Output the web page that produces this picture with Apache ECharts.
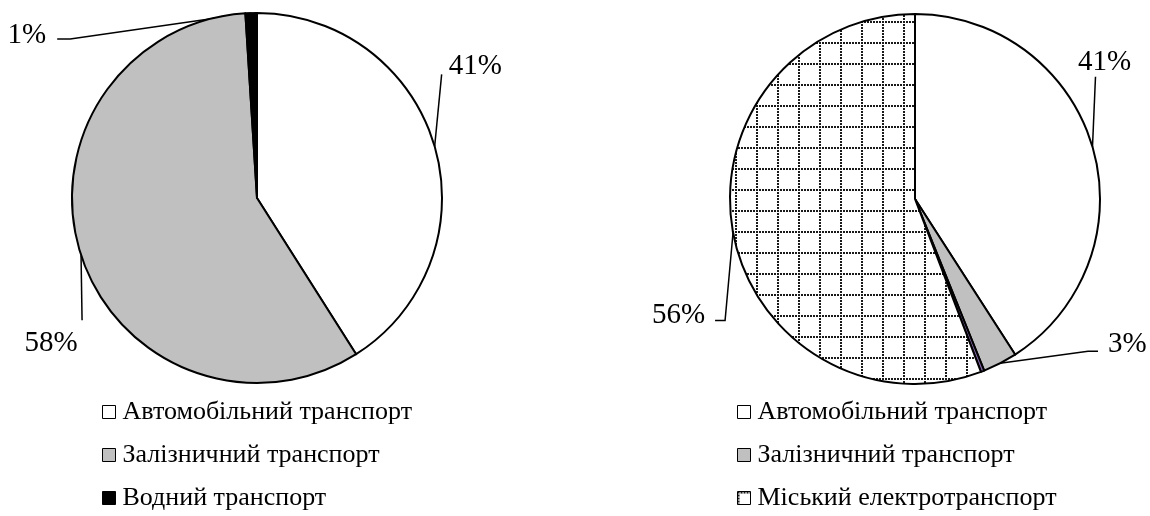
<!DOCTYPE html>
<html>
<head>
<meta charset="utf-8">
<script src="https://cdn.jsdelivr.net/npm/echarts@6/dist/echarts.min.js"></script>
<style>
html,body{margin:0;padding:0;background:#fff;}
#chart{width:1150px;height:516px;}
</style>
</head>
<body>
<div id="chart"></div>
<script>
// ---- data ----
const categoriesLeft = ['Автомобільний транспорт', 'Залізничний транспорт', 'Водний транспорт'];
const valuesLeft = [41, 58, 1];
const categoriesRight = ['Автомобільний транспорт', 'Залізничний транспорт', 'Водний транспорт', 'Міський електротранспорт'];
const valuesRight = [40.9, 3.0, 0.3, 55.8];
const legendLeft = ['Автомобільний транспорт', 'Залізничний транспорт', 'Водний транспорт'];
const legendRight = ['Автомобільний транспорт', 'Залізничний транспорт', 'Міський електротранспорт'];

// ---- styles ----
function makePattern() {
  const c = document.createElement('canvas');
  c.width = 21; c.height = 21;
  const g = c.getContext('2d');
  g.fillStyle = '#ffffff';
  g.fillRect(0, 0, 21, 21);
  g.fillStyle = '#1a1a1a';
  for (let i = 0; i < 21; i += 3) {
    g.fillRect(i, 0, 2, 2);
    g.fillRect(0, i, 2, 2);
  }
  return c;
}
const pattern = { image: makePattern(), repeat: 'repeat' };
const colorsLeft = ['#ffffff', '#c0c0c0', '#000000'];
const colorsRight = ['#ffffff', '#c0c0c0', '#8064a2', pattern];
const FONT = 'Liberation Serif';

// label placement offsets relative to the slice edge anchor (layout only)
const layoutLeft = {
  0: { line: [[7, -72]], lx: 14, ly: -80, align: 'left' },
  1: { line: [[1, 65]], lx: -30, ly: 88, align: 'center' },
  2: { line: [[-181, 26], [-194, 26]], lx: -205, ly: 22, align: 'right' }
};
const layoutRight = {
  0: { line: [[3, -70]], lx: 12, ly: -84, align: 'center' },
  1: { line: [[88, -12], [98, -12]], lx: 108, ly: -19, align: 'left' },
  3: { line: [[-8, 88], [-18, 88]], lx: -28, ly: 83, align: 'right' }
};

function makeLayout(cfg) {
  return function (params) {
    const c = cfg[params.dataIndex];
    const pts = params.labelLinePoints;
    if (!c || !pts) return {};
    const p0 = pts[0];
    const linePts = [[p0[0], p0[1]]];
    c.line.forEach(function (d) { linePts.push([p0[0] + d[0], p0[1] + d[1]]); });
    return {
      x: p0[0] + c.lx,
      y: p0[1] + c.ly,
      align: c.align,
      verticalAlign: 'middle',
      labelLinePoints: linePts
    };
  };
}

function buildData(cats, vals, cols, hideIdx) {
  return cats.map(function (name, i) {
    const item = { name: name, value: vals[i], itemStyle: { color: cols[i] } };
    if (hideIdx.indexOf(i) >= 0) {
      item.label = { show: false };
      item.labelLine = { show: false };
    }
    return item;
  });
}

const commonSeries = {
  type: 'pie',
  startAngle: 90,
  clockwise: true,
  percentPrecision: 0,
  avoidLabelOverlap: false,
  silent: true,
  itemStyle: { borderColor: '#000', borderWidth: 2 },
  label: {
    show: true,
    position: 'outside',
    formatter: '{d}%',
    fontFamily: FONT,
    fontSize: 29,
    color: '#000'
  },
  labelLine: {
    show: true,
    length: 20,
    length2: 10,
    lineStyle: { color: '#000', width: 1.5 }
  },
  emphasis: { disabled: true }
};

function legendFor(names, left) {
  return {
    data: names,
    orient: 'vertical',
    left: left,
    top: 399,
    height: 117,
    padding: 0,
    icon: 'rect',
    itemWidth: 13,
    itemHeight: 13,
    itemGap: 17,
    itemStyle: { borderColor: '#000', borderWidth: 1 },
    textStyle: { fontFamily: FONT, fontSize: 26, lineHeight: 26, color: '#000', padding: [0, 0, 0, 2] },
    selectedMode: false
  };
}

const chart = echarts.init(document.getElementById('chart'), null, { renderer: 'canvas' });
chart.setOption({
  backgroundColor: '#ffffff',
  animation: false,
  legend: [legendFor(legendLeft, 102), legendFor(legendRight, 737)],
  series: [
    Object.assign({}, commonSeries, {
      center: [257, 198],
      radius: 185,
      data: buildData(categoriesLeft, valuesLeft, colorsLeft, []),
      labelLayout: makeLayout(layoutLeft)
    }),
    Object.assign({}, commonSeries, {
      center: [915, 199],
      radius: 185,
      data: buildData(categoriesRight, valuesRight, colorsRight, [2]),
      labelLayout: makeLayout(layoutRight)
    })
  ]
});
</script>
</body>
</html>
